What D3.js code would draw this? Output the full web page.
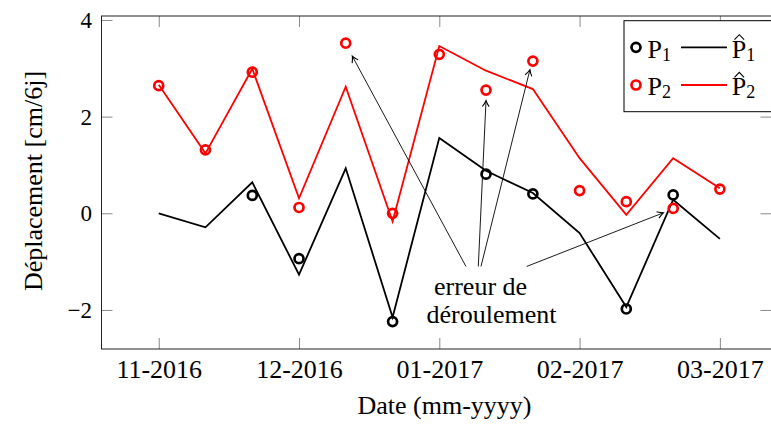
<!DOCTYPE html>
<html>
<head>
<meta charset="utf-8">
<script src="https://cdn.jsdelivr.net/npm/d3@7"></script>
<style>
  body { margin: 0; background: #fff; }
  svg, svg text { font-family: "Liberation Serif", "Times New Roman", "DejaVu Serif", serif; }
</style>
</head>
<body>
<div id="chart"></div>
<script>
// x = month index (0 = 11-2016), one acquisition every ~10 days
const xMonths = [0, 0.333, 0.667, 1, 1.333, 1.667, 2, 2.333, 2.667, 3, 3.333, 3.667, 4];
const monthTicks = [0, 1, 2, 3, 4];
const monthLabels = ['11-2016', '12-2016', '01-2017', '02-2017', '03-2017'];
const yTicks = [-2, 0, 2, 4];

// measured (P) and fitted (P hat) displacements, cm/6j
const p1Obs = [null, null, 0.37, -0.94, null, -2.24, null, 0.81, 0.40, null, -1.98, 0.38, null];
const p1Fit = [0.0, -0.29, 0.64, -1.27, 0.93, -2.15, 1.56, 0.88, 0.42, -0.41, -1.94, 0.28, -0.53];
const p2Obs = [2.64, 1.31, 2.92, 0.12, 3.52, 0.0, 3.29, 2.55, 3.15, 0.47, 0.24, 0.10, 0.50];
const p2Fit = [2.66, 1.24, 2.99, 0.31, 2.62, -0.17, 3.46, 2.95, 2.57, 1.14, -0.03, 1.14, 0.52];

const seriesNames = ['1', '2'];
const seriesColors = ['#000000', '#ff0000'];

// annotation arrows (data units): from the label to the unwrapping errors
const arrowFrom = [[2.19, -1.10], [2.278, -1.10], [2.297, -1.10], [2.623, -1.10]];
const arrowTo = [[1.38, 3.25], [2.333, 2.33], [2.646, 2.97], [3.597, 0.01]];
const noteLines = ['erreur de', 'déroulement'];
const notePos = [[2.294, -1.69], [2.372, -2.275]];

const serif = '"Liberation Serif", "Times New Roman", "DejaVu Serif", serif';

class DisplacementChart {
    constructor(_config) {
        this.config = {
            parentElement: _config.parentElement,
            containerWidth: 771,
            containerHeight: 424,
            margin: {top: 16, right: -0.5, bottom: 75, left: 101.5},
            tickLength: 11
        };
        this.initVis();
    }

    initVis() {
        let vis = this;
        vis.width = vis.config.containerWidth - vis.config.margin.left - vis.config.margin.right;
        vis.height = vis.config.containerHeight - vis.config.margin.top - vis.config.margin.bottom;

        vis.svg = d3.select(vis.config.parentElement).append('svg')
            .attr('width', vis.config.containerWidth)
            .attr('height', vis.config.containerHeight)
            .attr('font-family', serif);

        vis.svg.append('defs').append('marker')
            .attr('id', 'tip')
            .attr('viewBox', '-8 -5 10 10')
            .attr('refX', 0).attr('refY', 0)
            .attr('markerWidth', 10).attr('markerHeight', 10)
            .attr('markerUnits', 'userSpaceOnUse')
            .attr('orient', 'auto')
          .append('path')
            .attr('d', 'M-6,-3.4 Q-2.4,-0.9 0,0 Q-2.4,0.9 -6,3.4')
            .attr('fill', 'none')
            .attr('stroke', '#000')
            .attr('stroke-width', 1.1);

        vis.chart = vis.svg.append('g')
            .attr('transform', `translate(${vis.config.margin.left},${vis.config.margin.top})`);

        vis.x = d3.scaleLinear().domain([-0.408, 4.368]).range([0, vis.width]);
        vis.y = d3.scaleLinear().domain([-2.808, 4.082]).range([vis.height, 0]);

        vis.renderVis();
    }

    renderVis() {
        let vis = this;
        const tl = vis.config.tickLength;

        // axes: ticks on all four sides, pointing inwards
        const bottom = vis.chart.append('g')
            .attr('transform', `translate(0,${vis.height})`)
            .call(d3.axisBottom(vis.x).tickValues(monthTicks)
                .tickFormat((d, i) => monthLabels[i]).tickSizeInner(-tl).tickSizeOuter(0));
        bottom.selectAll('text').attr('y', 28.7).attr('dy', 0).attr('font-size', 26);

        const top = vis.chart.append('g')
            .call(d3.axisTop(vis.x).tickValues(monthTicks).tickFormat('').tickSizeInner(-tl).tickSizeOuter(0));

        const left = vis.chart.append('g')
            .call(d3.axisLeft(vis.y).tickValues(yTicks).tickFormat(d3.format('d'))
                .tickSizeInner(-tl).tickSizeOuter(0));
        left.selectAll('text').attr('x', -9.5).attr('dy', '0.33em').attr('font-size', 23);

        const right = vis.chart.append('g')
            .attr('transform', `translate(${vis.width},0)`)
            .call(d3.axisRight(vis.y).tickValues(yTicks).tickFormat('').tickSizeInner(-tl).tickSizeOuter(0));

        [bottom, top, left, right].forEach(g => g.attr('font-family', serif).attr('font-size', null));
        vis.chart.selectAll('.domain').remove();
        vis.chart.selectAll('.tick line').attr('stroke', '#8a8a8a').attr('stroke-width', 1);
        vis.chart.selectAll('.tick text').attr('fill', '#000').attr('font-family', serif);

        vis.chart.append('rect')
            .attr('width', vis.width).attr('height', vis.height)
            .attr('fill', 'none').attr('stroke', '#222').attr('stroke-width', 1);

        // series
        const series = [
            {obs: p1Obs, fit: p1Fit, color: seriesColors[0]},
            {obs: p2Obs, fit: p2Fit, color: seriesColors[1]}
        ];
        const line = d3.line()
            .x((d, i) => vis.x(xMonths[i]))
            .y(d => vis.y(d));

        series.forEach(s => {
            const pts = s.obs.map((v, i) => ({x: xMonths[i], v: v})).filter(d => d.v !== null);
            vis.chart.append('g').selectAll('circle')
                .data(pts)
                .join('circle')
                .attr('cx', d => vis.x(d.x))
                .attr('cy', d => vis.y(d.v))
                .attr('r', 4.5)
                .attr('fill', 'none')
                .attr('stroke', s.color)
                .attr('stroke-width', 2.7);

            vis.chart.append('path')
                .datum(s.fit)
                .attr('d', line)
                .attr('fill', 'none')
                .attr('stroke', s.color)
                .attr('stroke-width', 1.8)
                .attr('stroke-linejoin', 'miter');
        });

        // annotation
        vis.chart.append('g').selectAll('line')
            .data(arrowFrom)
            .join('line')
            .attr('x1', d => vis.x(d[0]))
            .attr('y1', d => vis.y(d[1]))
            .attr('x2', (d, i) => vis.x(arrowTo[i][0]))
            .attr('y2', (d, i) => vis.y(arrowTo[i][1]))
            .attr('stroke', '#000')
            .attr('stroke-width', 0.9)
            .attr('marker-end', 'url(#tip)');

        vis.chart.append('g').selectAll('text')
            .data(noteLines)
            .join('text')
            .attr('x', (d, i) => vis.x(notePos[i][0]))
            .attr('y', (d, i) => vis.y(notePos[i][1]))
            .attr('text-anchor', 'middle')
            .attr('font-family', serif)
            .attr('font-size', 26)
            .text(d => d);

        // axis titles
        vis.svg.append('text')
            .attr('x', 444.5).attr('y', 414)
            .attr('text-anchor', 'middle')
            .attr('font-family', serif)
            .attr('font-size', 26)
            .text('Date (mm-yyyy)');

        vis.svg.append('text')
            .attr('transform', 'translate(41.7,181) rotate(-90)')
            .attr('text-anchor', 'middle')
            .attr('font-family', serif)
            .attr('font-size', 26)
            .text('Déplacement [cm/6j]');

        // legend
        const legend = vis.svg.append('g')
            .attr('transform', 'translate(624,20.7)');
        legend.append('rect')
            .attr('width', 170).attr('height', 91)
            .attr('fill', '#fff').attr('stroke', '#000').attr('stroke-width', 1);

        const rows = legend.selectAll('.row')
            .data(seriesNames)
            .join('g')
            .attr('class', 'row')
            .attr('transform', (d, i) => `translate(0,${26.6 + i * 37.7})`);

        rows.append('circle')
            .attr('cx', 12).attr('cy', 0).attr('r', 4.5)
            .attr('fill', 'none')
            .attr('stroke', (d, i) => seriesColors[i])
            .attr('stroke-width', 2.7);

        const pText = rows.append('text')
            .attr('x', 23.5).attr('y', 10.4)
            .attr('font-family', serif)
            .attr('font-size', 26);
        pText.append('tspan').text('P');
        pText.append('tspan').attr('dy', 3).attr('font-size', 18).text(d => d);

        rows.append('line')
            .attr('x1', 57).attr('x2', 103)
            .attr('stroke', (d, i) => seriesColors[i])
            .attr('stroke-width', 1.8);

        const hText = rows.append('text')
            .attr('x', 107.7).attr('y', 10.4)
            .attr('font-family', serif)
            .attr('font-size', 26);
        hText.append('tspan').text('P');
        hText.append('tspan').attr('dy', 3).attr('font-size', 18).text(d => d);

        rows.append('path')
            .attr('d', 'M110.5,-7.6 L115.3,-12.6 L120.1,-7.6')
            .attr('fill', 'none')
            .attr('stroke', '#000')
            .attr('stroke-width', 1.1);
    }
}

new DisplacementChart({parentElement: '#chart'});
</script>
</body>
</html>
